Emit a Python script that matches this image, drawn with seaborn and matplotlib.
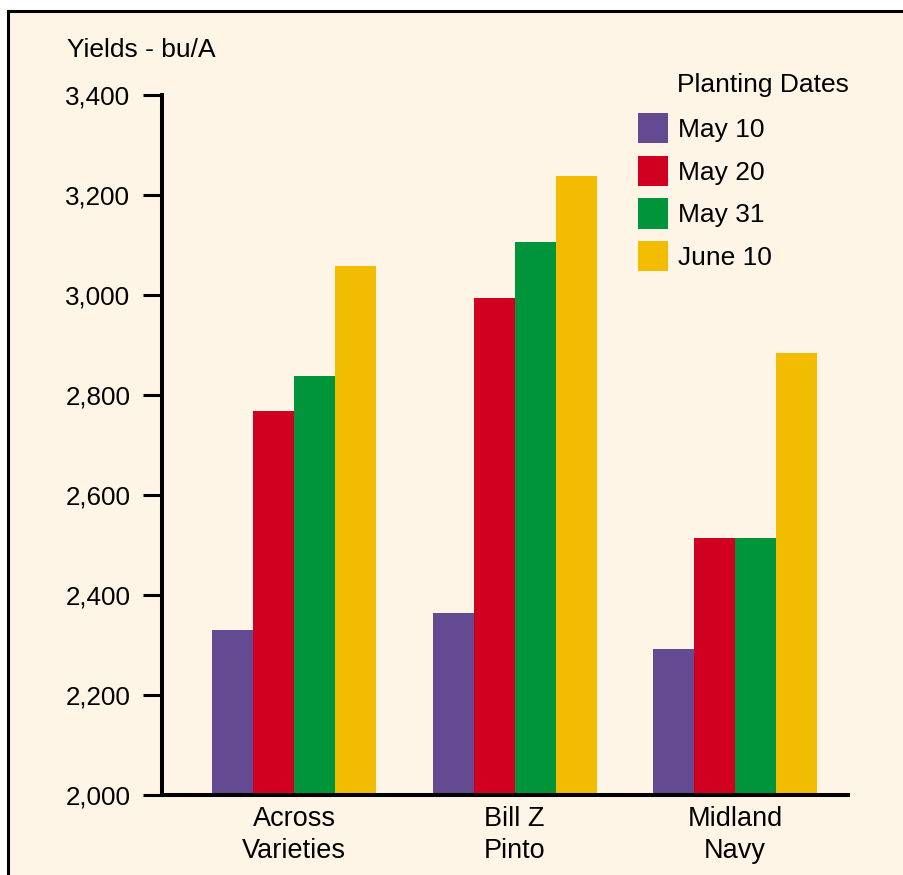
import matplotlib
matplotlib.use("Agg")
import matplotlib.pyplot as plt
import seaborn as sns
import pandas as pd
from matplotlib.patches import Rectangle

varieties = ["Across\nVarieties", "Bill Z\nPinto", "Midland\nNavy"]
dates = ["May 10", "May 20", "May 31", "June 10"]
may10 = [2330, 2364, 2292]
may20 = [2768, 2994, 2514]
may31 = [2838, 3106, 2514]
june10 = [3058, 3238, 2884]
colors = ["#634A91", "#D10021", "#00953A", "#F2BC00"]
yticks = [2000, 2200, 2400, 2600, 2800, 3000, 3200, 3400]

series = [may10, may20, may31, june10]
rows = []
for d, vals in zip(dates, series):
    for v, y in zip(varieties, vals):
        rows.append({"variety": v, "date": d, "yield": y})
df = pd.DataFrame(rows)

sns.set_theme(style="white")
plt.rcParams["font.family"] = ["Liberation Sans", "DejaVu Sans"]
plt.rcParams["text.color"] = "black"

W, H = 904, 875
fig = plt.figure(figsize=(W / 100, H / 100), dpi=100, facecolor="white")
cream = "#FEF5E6"
fig.patches.append(Rectangle((8 / W, -0.1), 1.2, (H - 11) / H + 0.1,
                             transform=fig.transFigure, facecolor=cream,
                             edgecolor="black", linewidth=2.2, zorder=-10))

ax = fig.add_axes([162 / W, (H - 795) / H, (848 - 162) / W, (795 - 95) / H])
ax.set_facecolor("none")

sns.barplot(data=df, x="variety", y="yield", hue="date", hue_order=dates,
            order=varieties, palette=colors, width=0.744, gap=0,
            saturation=1, errorbar=None, ax=ax, legend=False,
            linewidth=0, edgecolor="none")

ax.set_ylim(2000, 3400)
ax.set_xlim(-0.599, 2.512)
ax.set_yticks(yticks)
ax.set_yticklabels([f"{t:,}" for t in yticks])
ax.set_xlabel("")
ax.set_ylabel("")
for s in ["top", "right"]:
    ax.spines[s].set_visible(False)
for s in ["left", "bottom"]:
    ax.spines[s].set_linewidth(2.9)
    ax.spines[s].set_color("black")
ax.tick_params(axis="y", length=13.7, width=2.2, pad=9, labelsize=18.7,
               colors="black", direction="out", left=True)
ax.tick_params(axis="x", length=0, pad=8, labelsize=19.5, colors="black")
for lab in ax.get_xticklabels():
    lab.set_linespacing(1.3)

fig.text(67 / W, 1 - 50 / H, "Yields - bu/A", fontsize=19, ha="left",
         va="center", color="black")
fig.text(677 / W, 1 - 85 / H, "Planting Dates", fontsize=19, ha="left",
         va="center", color="black")

handles = [Rectangle((0, 0), 1, 1, facecolor=c, edgecolor="none") for c in colors]
leg = ax.legend(handles, dates, loc="upper left",
                bbox_to_anchor=(638 / W, 1 - 113 / H),
                bbox_transform=fig.transFigure, frameon=False,
                fontsize=19, handlelength=1.15, handleheight=1.4,
                handletextpad=0.36, labelspacing=0.46, borderpad=0,
                borderaxespad=0)
for t in leg.get_texts():
    t.set_color("black")

fig.savefig("out.png", dpi=100, facecolor="white")
